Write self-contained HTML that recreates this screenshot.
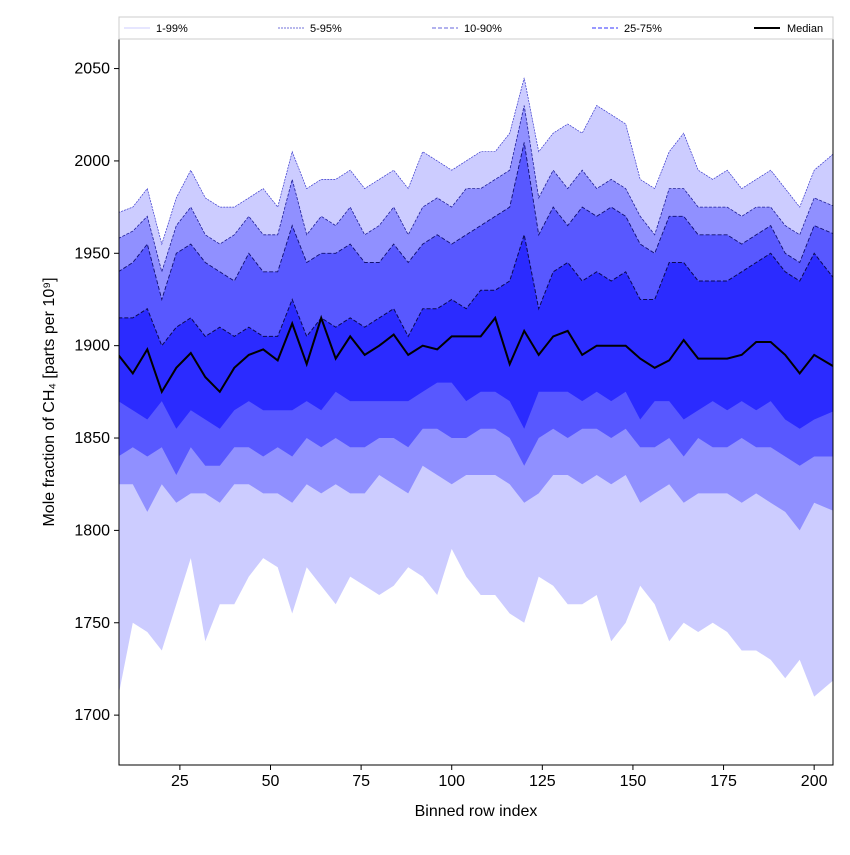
<!DOCTYPE html>
<html><head><meta charset="utf-8"><style>
body{margin:0;background:#fff;font-family:"Liberation Sans","DejaVu Sans",sans-serif;}
svg text{font-family:"Liberation Sans","DejaVu Sans",sans-serif;}
</style></head><body>
<svg id="chart" width="850" height="850" xmlns="http://www.w3.org/2000/svg">
<defs><clipPath id="plotclip"><rect x="119" y="39" width="714" height="726"/></clipPath></defs>
<rect width="850" height="850" fill="#fff"/>
<g id="bands" clip-path="url(#plotclip)"></g><g id="lines" clip-path="url(#plotclip)"></g>
<rect x="119" y="39" width="714" height="726" fill="none" stroke="#000" stroke-width="1"/>
<g id="axes"></g>
<text x="476" y="816" text-anchor="middle" font-size="16">Binned row index</text>
<text transform="translate(54,402) rotate(-90)" text-anchor="middle" font-size="16">Mole fraction of CH₄ [parts per 10⁹]</text>
<g>
<rect x="119" y="17" width="714" height="22" fill="#fff" stroke="#ccc"/>
<g><line x1="124" y1="28" x2="150" y2="28" stroke="#ccccff" stroke-width="1"/><text x="156" y="32" font-size="11">1-99%</text></g>
<g><line x1="278" y1="28" x2="305" y2="28" stroke="#4444cc" stroke-width="0.8" stroke-dasharray="2,1"/><text x="310" y="32" font-size="11">5-95%</text></g>
<g><line x1="432" y1="28" x2="458" y2="28" stroke="#6666dd" stroke-width="1" stroke-dasharray="4,2"/><text x="464" y="32" font-size="11">10-90%</text></g>
<g><line x1="592" y1="28" x2="618" y2="28" stroke="#3333ff" stroke-width="1" stroke-dasharray="4,2"/><text x="624" y="32" font-size="11">25-75%</text></g>
<g><line x1="754" y1="28" x2="780" y2="28" stroke="#000" stroke-width="2"/><text x="787" y="32" font-size="11">Median</text></g>
</g>
</svg>
<script>
const xIdx=[8,12,16,20,24,28,32,36,40,44,48,52,56,60,64,68,72,76,80,84,88,92,96,100,104,108,112,116,120,124,128,132,136,140,144,148,152,156,160,164,168,172,176,180,184,188,192,196,200,206];
const p99=[1972,1975,1985,1955,1980,1995,1980,1975,1975,1980,1985,1975,2005,1985,1990,1990,1995,1985,1990,1995,1985,2005,2000,1995,2000,2005,2005,2015,2045,2005,2015,2020,2015,2030,2025,2020,1990,1985,2005,2015,1995,1990,1995,1985,1990,1995,1985,1975,1995,2005];
const p95=[1958,1962,1970,1940,1965,1975,1960,1955,1960,1970,1960,1960,1990,1960,1970,1965,1975,1960,1965,1975,1960,1975,1980,1975,1985,1985,1990,1995,2030,1980,1995,1985,1995,1985,1990,1985,1970,1960,1985,1985,1975,1975,1975,1970,1975,1975,1965,1960,1980,1975];
const p90=[1940,1945,1955,1925,1950,1955,1945,1940,1935,1950,1940,1940,1965,1945,1950,1950,1955,1945,1945,1955,1945,1955,1960,1955,1960,1965,1970,1975,2010,1960,1975,1965,1975,1970,1975,1970,1955,1950,1970,1970,1960,1960,1960,1955,1960,1965,1950,1945,1965,1960];
const p75=[1915,1915,1920,1900,1910,1915,1905,1910,1905,1910,1905,1905,1925,1905,1915,1910,1915,1910,1915,1920,1905,1920,1920,1925,1920,1930,1930,1935,1960,1920,1940,1945,1935,1940,1935,1940,1925,1925,1945,1945,1935,1935,1935,1940,1945,1950,1940,1935,1950,1935];
const p50=[1895,1885,1898,1875,1888,1896,1883,1875,1888,1895,1898,1892,1912,1890,1915,1893,1905,1895,1900,1906,1895,1900,1898,1905,1905,1905,1915,1890,1908,1895,1905,1908,1895,1900,1900,1900,1893,1888,1892,1903,1893,1893,1893,1895,1902,1902,1895,1885,1895,1888];
const p25=[1870,1865,1860,1870,1855,1865,1860,1855,1865,1870,1865,1865,1865,1870,1865,1875,1870,1870,1870,1870,1870,1875,1880,1880,1870,1875,1875,1870,1855,1875,1875,1875,1870,1875,1870,1875,1860,1870,1870,1860,1865,1870,1865,1870,1865,1870,1860,1855,1860,1865];
const p10=[1840,1845,1840,1845,1830,1845,1835,1835,1845,1845,1840,1845,1840,1850,1845,1850,1845,1845,1850,1850,1845,1855,1855,1850,1850,1855,1855,1850,1835,1850,1855,1850,1855,1855,1850,1855,1845,1845,1850,1840,1850,1845,1845,1850,1845,1845,1840,1835,1840,1840];
const p5=[1825,1825,1810,1825,1815,1820,1820,1815,1825,1825,1820,1820,1815,1825,1820,1825,1820,1820,1830,1825,1820,1835,1830,1825,1830,1830,1830,1825,1815,1820,1830,1830,1825,1830,1825,1830,1815,1820,1825,1815,1820,1820,1820,1815,1820,1815,1810,1800,1815,1810];
const p1=[1710,1750,1745,1735,1760,1785,1740,1760,1760,1775,1785,1780,1755,1780,1770,1760,1775,1770,1765,1770,1780,1775,1765,1790,1775,1765,1765,1755,1750,1775,1770,1760,1760,1765,1740,1750,1770,1760,1740,1750,1745,1750,1745,1735,1735,1730,1720,1730,1710,1720];
const xTicks=[25,50,75,100,125,150,175,200];
const yTicks=[1700,1750,1800,1850,1900,1950,2000,2050];

const X0=119,X1=833,Y0=39,Y1=765,XMIN=8.2,XMAX=205.2,YMIN=1673,YMAX=2066;
const sx=v=>X0+(v-XMIN)/(XMAX-XMIN)*(X1-X0);
const sy=v=>Y1-(v-YMIN)/(YMAX-YMIN)*(Y1-Y0);
const NS='http://www.w3.org/2000/svg';
const bands=document.getElementById('bands'),lines=document.getElementById('lines'),axes=document.getElementById('axes');
function pts(a){return a.map((v,i)=>sx(xIdx[i]).toFixed(1)+','+sy(v).toFixed(1));}
function band(lo,hi,color,name){
  const p=document.createElementNS(NS,'polygon');
  p.setAttribute('points',pts(hi).concat(pts(lo).reverse()).join(' '));
  p.setAttribute('fill',color);
  
  
  bands.appendChild(p);
}
function line(a,color,w,dash,name){
  const p=document.createElementNS(NS,'polyline');
  p.setAttribute('points',pts(a).join(' '));
  p.setAttribute('fill','none');p.setAttribute('stroke',color);p.setAttribute('stroke-width',w);
  if(dash)p.setAttribute('stroke-dasharray',dash);
  
  
  lines.appendChild(p);
}
band(p1,p99,'#ccccff','band-1-99');
band(p5,p95,'#9090ff','band-5-95');
band(p10,p90,'#5858ff','band-10-90');
band(p25,p75,'#2b2bff','band-25-75');
line(p99,'#3a3acc',0.7,'2,1','line-p99');
line(p95,'#202099',0.8,'3,1.5','line-p95');
line(p90,'#101070',0.9,'4,2','line-p90');
line(p75,'#0a0a50',1,'4,2','line-p75');
line(p50,'#000',2,null,'median-line');
xTicks.forEach(t=>{
  const l=document.createElementNS(NS,'line');
  l.setAttribute('x1',sx(t));l.setAttribute('x2',sx(t));l.setAttribute('y1',Y1);l.setAttribute('y2',Y1+5);l.setAttribute('stroke','#000');
  
  
  axes.appendChild(l);
  const tx=document.createElementNS(NS,'text');
  tx.setAttribute('x',sx(t));tx.setAttribute('y',Y1+21);tx.setAttribute('text-anchor','middle');tx.setAttribute('font-size','16');
  tx.textContent=t;
  
  
  axes.appendChild(tx);
});
yTicks.forEach(t=>{
  const l=document.createElementNS(NS,'line');
  l.setAttribute('x1',X0-5);l.setAttribute('x2',X0);l.setAttribute('y1',sy(t));l.setAttribute('y2',sy(t));l.setAttribute('stroke','#000');
  
  
  axes.appendChild(l);
  const tx=document.createElementNS(NS,'text');
  tx.setAttribute('x',X0-9);tx.setAttribute('y',sy(t)+5);tx.setAttribute('text-anchor','end');tx.setAttribute('font-size','16');
  tx.textContent=t;
  
  
  axes.appendChild(tx);
});
</script>
</body></html>
